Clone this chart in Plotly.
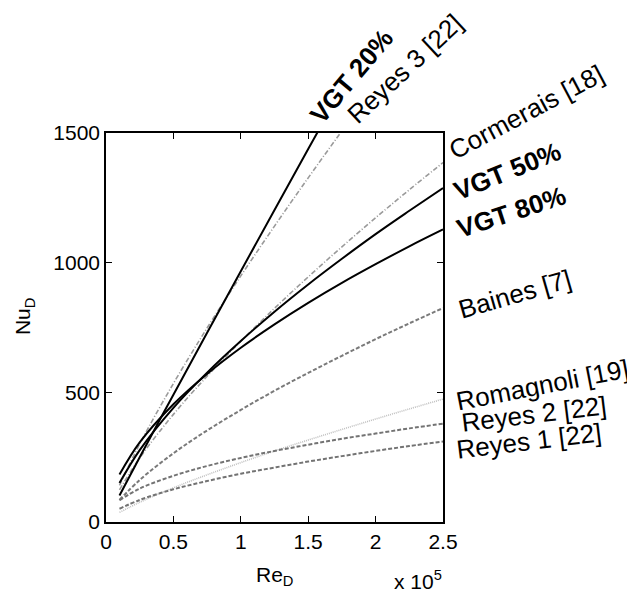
import plotly.graph_objects as go

# Re_D in units of 1e5
re_d = [0.1, 0.25, 0.5, 0.75, 1.0, 1.25, 1.5, 1.75, 2.0, 2.25, 2.5]

vgt20 = [102, 250, 491, 730, 967, 1203, 1438, 1672]
reyes3 = [141, 301, 534, 748, 949, 1141, 1327, 1508, 1685]
cormerais = [124, 247, 415, 562, 697, 824, 945, 1061, 1173, 1281, 1386]
vgt50 = [150, 277, 440, 576, 698, 811, 916, 1015, 1110, 1200, 1288]
vgt80 = [183, 307, 454, 571, 672, 762, 845, 922, 994, 1063, 1128]
baines = [85, 162, 265, 353, 432, 506, 575, 641, 705, 766, 825]
romagnoli = [37, 76, 132, 182, 229, 274, 316, 357, 397, 436, 474]
reyes2 = [84, 129, 178, 216, 247, 274, 298, 321, 341, 361, 379]
reyes1 = [51, 85, 126, 158, 186, 210, 233, 254, 274, 293, 310]

x_ticks = [0, 0.5, 1, 1.5, 2, 2.5]
y_ticks = [0, 500, 1000, 1500]

OFF = 8  # page body margin
W, H = 635 - OFF, 596 - OFF
# plot area in page pixels
L, R, T, B = 106, 443.5, 133, 522

fig = go.Figure()

def add(y, color, width, dash):
    fig.add_trace(go.Scatter(x=re_d[:len(y)], y=y, mode="lines",
                             line=dict(color=color, width=width, dash=dash, shape="spline"),
                             showlegend=False, hoverinfo="skip"))

add(reyes3, "#9a9a9a", 1.6, "5px,2px,1px,2px")
add(cormerais, "#9a9a9a", 1.6, "5px,2px,1px,2px")
add(baines, "#7a7a7a", 2, "4px,2px")
add(romagnoli, "#c0c0c0", 1.6, "1px,1px")
add(reyes2, "#737373", 2, "4px,2px")
add(reyes1, "#737373", 2, "4px,2px")
add(vgt20, "#000000", 2, "solid")
add(vgt50, "#000000", 2, "solid")
add(vgt80, "#000000", 2, "solid")

def px(xp):
    return (xp - L) / (R - L)

def py(yp):
    return (B - yp) / (B - T)

labels = [
    ("<b>VGT 20%</b>", 352, 76, -50),
    ("Reyes 3 [22]", 405, 69, -43),
    ("Cormerais [18]", 527, 112, -28),
    ("<b>VGT 50%</b>", 508, 171, -22),
    ("<b>VGT 80%</b>", 512, 212, -18),
    ("Baines [7]", 516, 294, -16),
    ("Romagnoli [19]", 543, 385, -11),
    ("Reyes 2 [22]", 535, 414, -7),
    ("Reyes 1 [22]", 530, 441, -7),
]
font_family = "Liberation Sans, Arial, sans-serif"
for text, xp, yp, ang in labels:
    fig.add_annotation(text=text, x=px(xp), y=py(yp), xref="paper", yref="paper",
                       showarrow=False, textangle=ang, xanchor="center", yanchor="middle",
                       font=dict(size=26, color="black", family=font_family))

fig.add_annotation(text="Re<sub>D</sub>", x=px(275), y=py(576), xref="paper", yref="paper",
                   showarrow=False, xanchor="center", yanchor="middle",
                   font=dict(size=21, color="black", family=font_family))
fig.add_annotation(text="x 10<sup>5</sup>", x=px(418), y=py(580), xref="paper", yref="paper",
                   showarrow=False, xanchor="center", yanchor="middle",
                   font=dict(size=21, color="black", family=font_family))
fig.add_annotation(text="Nu<sub>D</sub>", x=px(24), y=py(317), xref="paper", yref="paper",
                   showarrow=False, textangle=-90, xanchor="center", yanchor="middle",
                   font=dict(size=21, color="black", family=font_family))

axis_common = dict(showgrid=False, zeroline=False, showline=True, linecolor="black",
                   linewidth=1.5, mirror="ticks", ticks="inside", ticklen=6,
                   tickcolor="black", tickwidth=1,
                   tickfont=dict(size=21, color="black", family=font_family))

fig.update_layout(
    width=W, height=H,
    margin=dict(l=L - OFF, r=W - (R - OFF), t=T - OFF, b=H - (B - OFF)),
    paper_bgcolor="white", plot_bgcolor="white",
    xaxis=dict(range=[0, 2.5], tickvals=x_ticks, ticktext=["0", "0.5", "1", "1.5", "2", "2.5"], **axis_common),
    yaxis=dict(range=[0, 1500], tickvals=y_ticks, ticktext=[str(v) for v in y_ticks], **axis_common),
)

fig.write_html("out.html")
